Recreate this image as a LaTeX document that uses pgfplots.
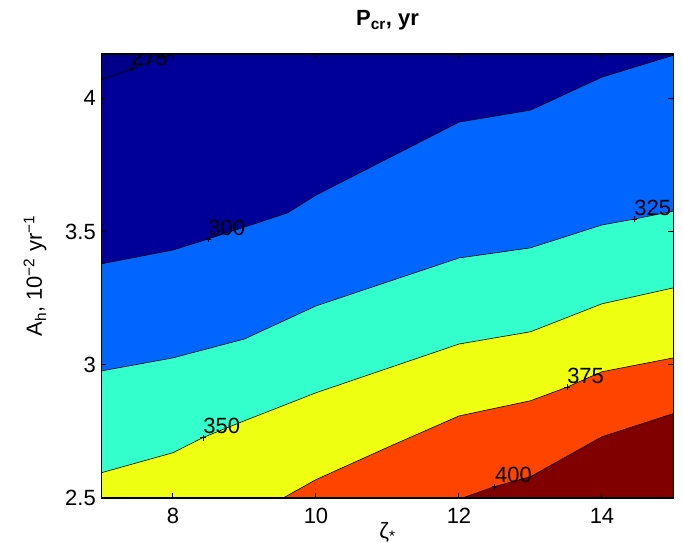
\documentclass[border=0pt]{standalone}
\usepackage{fontspec}
\setmainfont{Liberation Sans}
\usepackage{pgfplots}
\pgfplotsset{compat=1.18}
\definecolor{cA}{RGB}{0,0,136}
\definecolor{cB}{RGB}{0,0,153}
\definecolor{cC}{RGB}{0,102,255}
\definecolor{cD}{RGB}{51,255,204}
\definecolor{cE}{RGB}{238,255,17}
\definecolor{cF}{RGB}{255,68,0}
\definecolor{cG}{RGB}{128,0,0}
\newcommand{\fs}{\fontsize{22bp}{26bp}\selectfont}
\begin{document}
\begin{tikzpicture}
\useasboundingbox (-101.5bp,-45bp) rectangle (581.5bp,498bp);
\clip (-101.5bp,-45bp) rectangle (581.5bp,498bp);
\begin{axis}[
 at={(0,0)}, anchor=south west,
 width=572bp, height=444bp, scale only axis,
 xmin=7, xmax=15, ymin=2.5, ymax=4.1667,
 xtick={8,10,12,14}, ytick={2.5,3,3.5,4},
 tick pos=both, xticklabel pos=lower, yticklabel pos=left,
 axis on top, clip mode=global,
 axis line style={line width=1.5bp},
 major tick length=5bp, every tick/.style={black, line width=1bp},
 /pgf/number format/assume math mode=true,
 tick label style={font=\fs},
 xticklabel style={anchor=north, inner sep=0pt, yshift=-10bp},
 yticklabel style={anchor=east, inner sep=0pt, xshift=-5.5bp},
 xlabel={ζ\textsubscript{*}},
 xlabel style={at={(axis description cs:0.5,-0.054)}, anchor=north, inner sep=0pt, font=\fs},
 ylabel={A\textsubscript{h}, 10\textsuperscript{−2} yr\textsuperscript{−1}},
 ylabel style={at={(axis description cs:-0.116,0.5)}, anchor=center, inner sep=0pt, font=\fs},
]
% filled regions
\addplot[fill=cB, draw=none] coordinates {(7,2.5) (15,2.5) (15,4.1667) (7,4.1667)} -- cycle;
\addplot[fill=cA, draw=none] coordinates {(7,4.069) (8,4.1667) (7,4.1667)} -- cycle;
\addplot[fill=cC, draw=none] coordinates {(7,2.5) (7,3.379) (8,3.431) (8.49,3.472) (9.6,3.570) (10,3.637) (12,3.911) (13,3.956) (14,4.080) (15,4.162) (15,2.5)} -- cycle;
\addplot[fill=cD, draw=none] coordinates {(7,2.5) (7,2.977) (8,3.026) (9,3.097) (10,3.221) (12,3.401) (13,3.439) (14,3.525) (14.45,3.547) (15,3.577) (15,2.5)} -- cycle;
\addplot[fill=cE, draw=none] coordinates {(7,2.5) (7,2.595) (8,2.670) (8.42,2.727) (9,2.790) (10,2.895) (12,3.078) (13,3.124) (14,3.229) (15,3.289) (15,2.5)} -- cycle;
\addplot[fill=cF, draw=none] coordinates {(9.54,2.5) (10,2.569) (11,2.690) (12,2.808) (13,2.865) (13.51,2.916) (14,2.974) (15,3.026) (15,2.5)} -- cycle;
\addplot[fill=cG, draw=none] coordinates {(12.05,2.5) (12.5,2.543) (13,2.580) (14,2.730) (15,2.817) (15,2.5)} -- cycle;
% contour lines
\addplot[black, line width=0.6bp] coordinates {(7,4.069) (8,4.1667)};
\addplot[black, line width=0.6bp] coordinates {(7,3.379) (8,3.431) (8.49,3.472) (9.6,3.570) (10,3.637) (12,3.911) (13,3.956) (14,4.080) (15,4.162)};
\addplot[black, line width=0.6bp] coordinates {(7,2.977) (8,3.026) (9,3.097) (10,3.221) (12,3.401) (13,3.439) (14,3.525) (14.45,3.547) (15,3.577)};
\addplot[black, line width=0.6bp] coordinates {(7,2.595) (8,2.670) (8.42,2.727) (9,2.790) (10,2.895) (12,3.078) (13,3.124) (14,3.229) (15,3.289)};
\addplot[black, line width=0.6bp] coordinates {(9.54,2.5) (10,2.569) (11,2.690) (12,2.808) (13,2.865) (13.51,2.916) (14,2.974) (15,3.026)};
\addplot[black, line width=0.6bp] coordinates {(12.05,2.5) (12.5,2.543) (13,2.580) (14,2.730) (15,2.817)};
% contour labels
\addplot[only marks, mark=+, mark size=3bp, mark options={line width=0.6bp, black},
 nodes near coords, point meta=explicit symbolic,
 nodes near coords style={anchor=base west, inner sep=0pt, yshift=4bp, font=\fs, text=black}]
 coordinates {(7.41,4.109)[275] (8.49,3.472)[300] (14.45,3.547)[325] (8.42,2.727)[350] (13.51,2.916)[375] (12.50,2.543)[400]};
\end{axis}
% hide the part of the clipped "275" label above the axis box
\fill[white] (10bp,444.8bp) rectangle (110bp,470bp);
\node[anchor=base, inner sep=0pt, font=\fs] at (286bp,472bp) {\textbf{P\textsubscript{cr}, yr}};
\end{tikzpicture}
\end{document}
